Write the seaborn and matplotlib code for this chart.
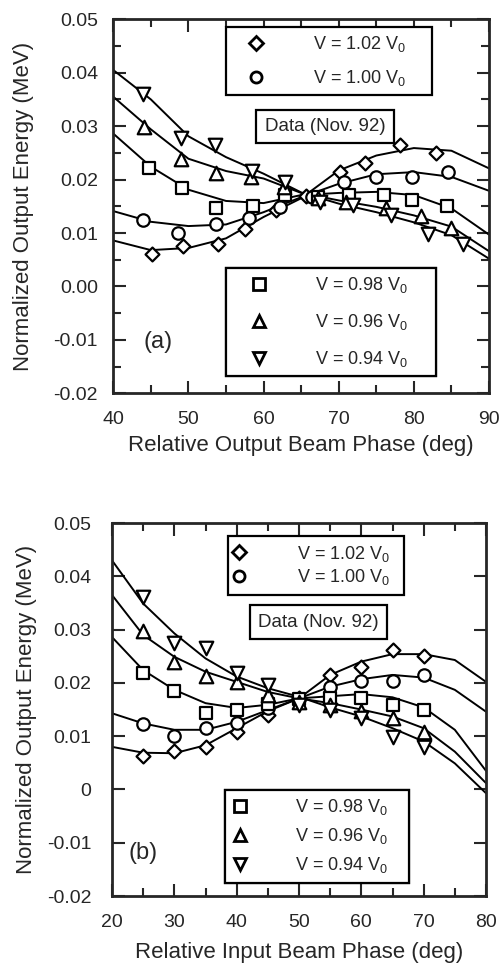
import numpy as np
import pandas as pd
import matplotlib
matplotlib.use('Agg')
import matplotlib.pyplot as plt
import seaborn as sns
from matplotlib.lines import Line2D
from matplotlib.ticker import FixedLocator, MultipleLocator

# series order: 1.02, 1.00, 0.98, 0.96, 0.94
labels = ['V = 1.02 V$_0$', 'V = 1.00 V$_0$', 'V = 0.98 V$_0$', 'V = 0.96 V$_0$', 'V = 0.94 V$_0$']
markers = ['D', 'o', 's', '^', 'v']

# (a) relative output beam phase - measured points
a_x_102 = [45.1, 49.3, 53.9, 57.5, 61.7, 65.7, 70.2, 73.5, 78.2, 83.0]
a_y_102 = [0.0061, 0.0075, 0.0080, 0.0108, 0.0144, 0.0170, 0.0214, 0.0231, 0.0264, 0.0250]
a_x_100 = [44.0, 48.6, 53.7, 58.0, 62.2, 66.5, 70.7, 74.9, 79.7, 84.5]
a_y_100 = [0.0125, 0.0100, 0.0116, 0.0128, 0.0148, 0.0167, 0.0195, 0.0205, 0.0205, 0.0214]
a_x_098 = [44.8, 49.1, 53.7, 58.6, 62.8, 67.2, 71.4, 76.0, 79.7, 84.4]
a_y_098 = [0.0221, 0.0184, 0.0146, 0.0150, 0.0171, 0.0168, 0.0172, 0.0172, 0.0161, 0.0150]
a_x_096 = [44.1, 49.0, 53.7, 58.3, 62.7, 67.2, 71.0, 76.3, 81.0, 84.9]
a_y_096 = [0.0298, 0.0239, 0.0212, 0.0204, 0.0187, 0.0165, 0.0158, 0.0146, 0.0131, 0.0110]
a_x_094 = [43.9, 49.0, 53.5, 58.5, 62.8, 67.5, 71.9, 77.0, 81.9, 86.6]
a_y_094 = [0.0361, 0.0277, 0.0264, 0.0216, 0.0196, 0.0158, 0.0152, 0.0133, 0.0099, 0.0080]

# (a) fitted curves, read every 5 deg
a_curve_x = [40, 45, 50, 55, 60, 65, 70, 75, 80, 85, 90]
a_curve_102 = [0.0086, 0.0068, 0.0072, 0.0090, 0.0130, 0.0165, 0.0217, 0.0245, 0.0259, 0.0254, 0.0221]
a_curve_100 = [0.0141, 0.0121, 0.0113, 0.0116, 0.0139, 0.0167, 0.0192, 0.0210, 0.0214, 0.0205, 0.0179]
a_curve_098 = [0.0286, 0.0224, 0.0181, 0.0160, 0.0156, 0.0171, 0.0175, 0.0177, 0.0171, 0.0146, 0.0097]
a_curve_096 = [0.0355, 0.0294, 0.0239, 0.0216, 0.0202, 0.0175, 0.0161, 0.0149, 0.0133, 0.0112, 0.0066]
a_curve_094 = [0.0405, 0.0350, 0.0281, 0.0242, 0.0211, 0.0176, 0.0155, 0.0139, 0.0120, 0.0096, 0.0052]

# (b) relative input beam phase - measured points
b_x = [25, 30, 35, 40, 45, 50, 55, 60, 65, 70]
b_y_102 = [0.0063, 0.0072, 0.0080, 0.0108, 0.0140, 0.0171, 0.0215, 0.0229, 0.0262, 0.0250]
b_y_100 = [0.0123, 0.0100, 0.0115, 0.0125, 0.0152, 0.0170, 0.0193, 0.0204, 0.0204, 0.0215]
b_y_098 = [0.0219, 0.0185, 0.0144, 0.0149, 0.0160, 0.0170, 0.0171, 0.0171, 0.0159, 0.0150]
b_y_096 = [0.0298, 0.0240, 0.0213, 0.0202, 0.0177, 0.0165, 0.0159, 0.0148, 0.0134, 0.0108]
b_y_094 = [0.0361, 0.0275, 0.0265, 0.0218, 0.0196, 0.0159, 0.0149, 0.0134, 0.0098, 0.0080]

# (b) fitted curves
b_curve_x = [20, 25, 30, 35, 40, 45, 50, 55, 60, 65, 70, 75, 80]
b_curve_102 = [0.0080, 0.0069, 0.0068, 0.0083, 0.0115, 0.0147, 0.0171, 0.0215, 0.0240, 0.0254, 0.0254, 0.0243, 0.0202]
b_curve_100 = [0.0143, 0.0124, 0.0112, 0.0112, 0.0127, 0.0149, 0.0171, 0.0193, 0.0207, 0.0215, 0.0210, 0.0187, 0.0146]
b_curve_098 = [0.0286, 0.0224, 0.0187, 0.0162, 0.0153, 0.0159, 0.0171, 0.0175, 0.0179, 0.0173, 0.0154, 0.0112, 0.0035]
b_curve_096 = [0.0365, 0.0290, 0.0249, 0.0221, 0.0202, 0.0183, 0.0171, 0.0162, 0.0150, 0.0137, 0.0115, 0.0071, 0.0012]
b_curve_094 = [0.0430, 0.0349, 0.0293, 0.0246, 0.0212, 0.0190, 0.0174, 0.0154, 0.0137, 0.0115, 0.0090, 0.0049, -0.0007]

a_yticks = [-0.02, -0.01, 0.0, 0.01, 0.02, 0.03, 0.04, 0.05]
a_yticklabels = ['-0.02', '-0.01', '0.00', '0.01', '0.02', '0.03', '0.04', '0.05']
b_yticklabels = ['-0.02', '-0.01', '0', '0.01', '0.02', '0.03', '0.04', '0.05']

sns.set_style('ticks')
plt.rcParams['font.family'] = ['Liberation Sans', 'DejaVu Sans']
plt.rcParams['mathtext.default'] = 'regular'
plt.rcParams['axes.unicode_minus'] = False

sizes = [50, 80, 80, 95, 95]

fig = plt.figure(figsize=(5, 9.64), dpi=100)
ax_a = fig.add_axes([0.2266, 0.5920, 0.7514, 0.3880])
ax_b = fig.add_axes([0.2240, 0.0705, 0.7480, 0.3869])


def draw(ax, px, py, cx, cy):
    for i in range(5):
        sns.lineplot(x=cx, y=cy[i], color='black', lw=1.4, ax=ax)
        sns.scatterplot(x=px[i], y=py[i], marker=markers[i], s=sizes[i], color='white',
                        edgecolor='black', linewidth=1.6, ax=ax, zorder=3)


draw(ax_a, [a_x_102, a_x_100, a_x_098, a_x_096, a_x_094],
     [a_y_102, a_y_100, a_y_098, a_y_096, a_y_094],
     a_curve_x, [a_curve_102, a_curve_100, a_curve_098, a_curve_096, a_curve_094])
draw(ax_b, [b_x] * 5,
     [b_y_102, b_y_100, b_y_098, b_y_096, b_y_094],
     b_curve_x, [b_curve_102, b_curve_100, b_curve_098, b_curve_096, b_curve_094])

handles = [Line2D([], [], ls='none', marker=m, markersize=8, mfc='white', mec='black', mew=2)
           for m in markers]
handles[0].set_markersize(7)


def add_legend(ax, idx, bbox, hl, tp, ls):
    leg = ax.legend([handles[i] for i in idx], [labels[i] for i in idx], loc='upper left',
                    bbox_to_anchor=bbox, mode='expand', fontsize=13, frameon=True, fancybox=False,
                    framealpha=1, edgecolor='black', borderpad=0.4, handlelength=hl,
                    handletextpad=tp, labelspacing=ls, borderaxespad=0)
    leg.get_frame().set_linewidth(1.6)
    ax.add_artist(leg)


add_legend(ax_a, [0, 1], (0.299, 0.0, 0.548, 0.979), 2.56, 1.88, 0.75)
add_legend(ax_a, [2, 3, 4], (0.299, 0.0, 0.559, 0.336), 2.89, 1.66, 0.95)
add_legend(ax_b, [0, 1], (0.31, 0.0, 0.472, 0.964), 0.42, 3.0, 0.2)
add_legend(ax_b, [2, 3, 4], (0.303, 0.0, 0.49, 0.284), 0.79, 2.65, 0.5)

box = dict(boxstyle='square,pad=0.45', fc='white', ec='black', lw=1.6)
ax_a.text(0.5635, 0.7134, 'Data (Nov. 92)', transform=ax_a.transAxes, ha='center', va='center',
          fontsize=13.5, bbox=box)
ax_b.text(0.552, 0.7346, 'Data (Nov. 92)', transform=ax_b.transAxes, ha='center', va='center',
          fontsize=13.5, bbox=box)
ax_a.text(0.119, 0.137, '(a)', transform=ax_a.transAxes, ha='center', va='center', fontsize=17)
ax_b.text(0.084, 0.1145, '(b)', transform=ax_b.transAxes, ha='center', va='center', fontsize=17)

for ax in (ax_a, ax_b):
    ax.set_ylim(-0.02, 0.05)
    ax.yaxis.set_major_locator(FixedLocator(a_yticks))
    ax.xaxis.set_major_locator(MultipleLocator(10))
    ax.xaxis.set_minor_locator(MultipleLocator(5))
    ax.tick_params(which='both', direction='in', top=True, right=True, width=1.5, labelsize=14)
    ax.tick_params(which='major', length=9)
    ax.tick_params(which='minor', length=5.5)
    for s in ax.spines.values():
        s.set_linewidth(2)
    ax.set_ylabel('Normalized Output Energy (MeV)', fontsize=16)

ax_a.set_xlim(40, 90)
ax_a.yaxis.set_minor_locator(MultipleLocator(0.005))
ax_a.set_yticklabels(a_yticklabels)
ax_a.tick_params(axis='x', pad=13)
ax_a.tick_params(axis='y', pad=11)
ax_a.set_xlabel('Relative Output Beam Phase (deg)', fontsize=16)
ax_a.xaxis.set_label_coords(0.5, -0.112)
ax_a.yaxis.set_label_coords(-0.212, 0.5)

ax_b.set_xlim(20, 80)
ax_b.set_yticklabels(b_yticklabels)
ax_b.tick_params(axis='x', pad=13)
ax_b.tick_params(axis='y', pad=15)
ax_b.set_xlabel('Relative Input Beam Phase (deg)', fontsize=16)
ax_b.xaxis.set_label_coords(0.5, -0.122)
ax_b.yaxis.set_label_coords(-0.2, 0.5)

fig.savefig('out.png', dpi=100)
